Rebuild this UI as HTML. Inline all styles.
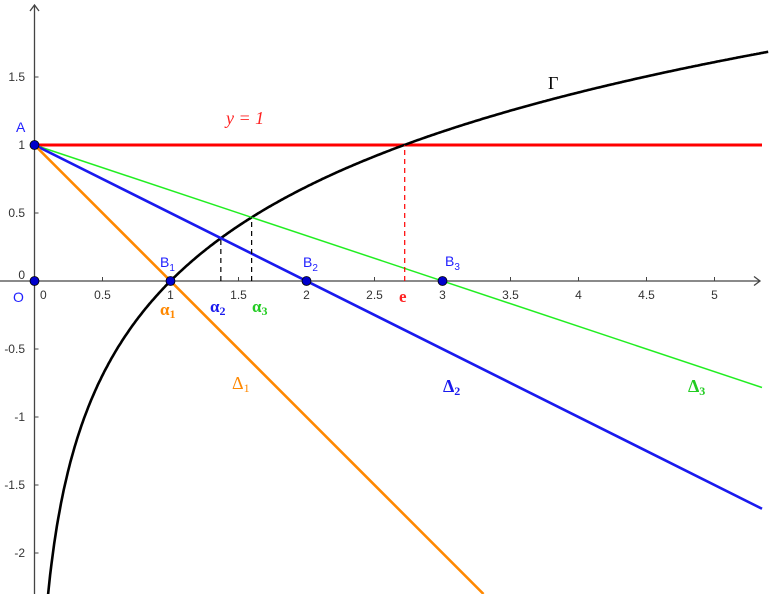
<!DOCTYPE html>
<html><head><meta charset="utf-8"><style>
html,body{margin:0;padding:0;background:#fff;width:777px;height:594px;overflow:hidden}
svg{display:block}
text{font-family:"Liberation Sans",sans-serif}
.t{font-size:12px;fill:#333}
.m{font-family:"Liberation Serif",serif;font-weight:bold}
</style></head><body>
<svg id="s" width="777" height="594" viewBox="0 0 777 594" xmlns="http://www.w3.org/2000/svg">
<g id="axes" stroke="#444" stroke-width="1.3" fill="none">
<line x1="34.5" y1="594" x2="34.5" y2="5"/>
<polyline points="30,11 34.5,5 39,11"/>
<line x1="0" y1="281" x2="760" y2="281"/>
<polyline points="754,276.5 760,281 754,285.5"/>
</g>
<g id="ticks" stroke="#444" stroke-width="1"></g>
<g id="labels"></g>
<line x1="34.5" y1="145" x2="762" y2="145" stroke="#ff0000" stroke-width="3"/>
<path id="ln" fill="none" stroke="#000" stroke-width="2.6"/>
<line id="d3" stroke="#22ee22" stroke-width="1.5"/>
<line id="d2" stroke="#1a1aee" stroke-width="2.6"/>
<line id="d1" stroke="#ff8800" stroke-width="2.6"/>
<g stroke="#000" stroke-width="1.2" stroke-dasharray="5,4">
<line id="v2" x1="0" y1="281" x2="0" y2="0"/>
<line id="v3" x1="0" y1="281" x2="0" y2="0"/>
</g>
<line x1="404.7" y1="281" x2="404.7" y2="145" stroke="#ff0000" stroke-width="1.2" stroke-dasharray="5,4"/>
<g fill="#0000cc" stroke="#000" stroke-width="0.8">
<circle cx="34.5" cy="145" r="4.5"/><circle cx="34.5" cy="281" r="4.5"/>
<circle cx="170.5" cy="281" r="4.5"/><circle cx="306.5" cy="281" r="4.5"/><circle cx="442.5" cy="281" r="4.5"/>
</g>
<g fill="#2222ff" font-size="14">
<text x="16" y="132">A</text>
<text x="13" y="302">O</text>
<text x="160" y="267">B<tspan font-size="10" dy="4">1</tspan></text>
<text x="303" y="267">B<tspan font-size="10" dy="4">2</tspan></text>
<text x="445" y="266">B<tspan font-size="10" dy="4">3</tspan></text>
</g>
<text x="226" y="124" fill="#ff2222" style="font-family:'Liberation Serif',serif;font-style:italic;font-size:18px">y = 1</text>
<text x="548" y="89" style="font-family:'Liberation Serif',serif;font-size:18px">Γ</text>
<text x="399" y="302" fill="#ff2222" class="m" font-size="17">e</text>
<text x="160" y="315" fill="#ff8800" class="m" font-size="17">α<tspan font-size="12" dy="3">1</tspan></text>
<text x="210" y="312" fill="#1a1aee" class="m" font-size="17">α<tspan font-size="12" dy="3">2</tspan></text>
<text x="252" y="312" fill="#22cc22" class="m" font-size="17">α<tspan font-size="12" dy="3">3</tspan></text>
<text x="232" y="389" fill="#ff8800" style="font-family:'Liberation Serif',serif;font-size:18px">Δ<tspan font-size="12" dy="3">1</tspan></text>
<text x="443" y="392" fill="#1a1aee" class="m" font-size="18">Δ<tspan font-size="12" dy="3">2</tspan></text>
<text x="688" y="392" fill="#22cc22" class="m" font-size="18">Δ<tspan font-size="12" dy="3">3</tspan></text>
</svg>
<script>
var X=function(x){return 34.5+136*x},Y=function(y){return 281-136*y};
var ns="http://www.w3.org/2000/svg";
function el(p,n,a,t){var e=document.createElementNS(ns,n);for(var k in a)e.setAttribute(k,a[k]);if(t!=null)e.textContent=t;p.appendChild(e);return e;}
var tk=document.getElementById('ticks'),lb=document.getElementById('labels');
var xl=["0.5","1","1.5","2","2.5","3","3.5","4","4.5","5"];
for(var i=1;i<=10;i++){var x=X(i/2);el(tk,'line',{x1:x,y1:277,x2:x,y2:281});el(lb,'text',{x:x,y:299,'text-anchor':'middle','class':'t'},xl[i-1]);}
el(lb,'text',{x:40,y:299,'class':'t'},"0");
var yv=[1.5,1,0.5,0,-0.5,-1,-1.5,-2];
yv.forEach(function(v){var y=Y(v);if(v!=0)el(tk,'line',{x1:34.5,y1:y,x2:38.5,y2:y});el(lb,'text',{x:25,y:y+4+(v==0?-6:0),'text-anchor':'end','class':'t'},v.toString());});
var d="";for(var x=0.095;x<=5.4;x+=0.01){var px=X(x),py=Y(Math.log(x));if(px>777)break;d+=(d?"L":"M")+px.toFixed(1)+","+py.toFixed(1);}
document.getElementById('ln').setAttribute('d',d);
function L(id,k){var e=document.getElementById(id),xe=(762-34.5)/136;var ye=1-xe/k;if(Y(ye)>594){xe=k*(1+313/136);ye=1-xe/k;}
e.setAttribute('x1',X(0));e.setAttribute('y1',Y(1));e.setAttribute('x2',X(xe));e.setAttribute('y2',Y(ye));}
L('d1',1);L('d2',2);L('d3',3);
function inter(k){var lo=1,hi=3;for(var i=0;i<60;i++){var m=(lo+hi)/2;if(Math.log(m)-(1-m/k)>0)hi=m;else lo=m;}return lo;}
[['v2',2],['v3',3]].forEach(function(a){var x=inter(a[1]),e=document.getElementById(a[0]);e.setAttribute('x1',X(x));e.setAttribute('x2',X(x));e.setAttribute('y2',Y(Math.log(x)));});
</script>
</body></html>
